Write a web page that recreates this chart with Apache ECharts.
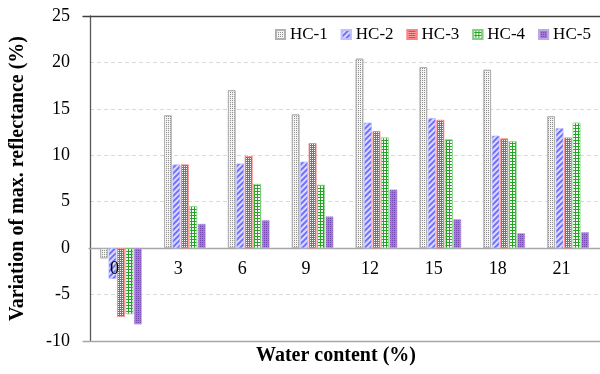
<!DOCTYPE html>
<html><head><meta charset="utf-8">
<script src="https://cdn.jsdelivr.net/npm/echarts@6/dist/echarts.min.js"></script>
<style>html,body{margin:0;padding:0;background:#fff}#c{width:600px;height:374px}</style>
</head><body><div id="c"></div>
<script>
// ---- data ----
const categories = ['0', '3', '6', '9', '12', '15', '18', '21'];
const seriesNames = ['HC-1', 'HC-2', 'HC-3', 'HC-4', 'HC-5'];
const hc1 = [-1.1, 14.3, 17.0, 14.4, 20.4, 19.5, 19.2, 14.2];
const hc2 = [-3.3, 9.0, 9.1, 9.3, 13.5, 14.0, 12.1, 12.9];
const hc3 = [-7.4, 9.0, 9.9, 11.3, 12.6, 13.8, 11.8, 11.9];
const hc4 = [-7.1, 4.5, 6.9, 6.8, 11.9, 11.7, 11.5, 13.5];
const hc5 = [-8.2, 2.6, 3.0, 3.4, 6.3, 3.1, 1.6, 1.7];
const yMin = -10, yMax = 25, yInterval = 5;
const xTitle = 'Water content (%)';
const yTitle = 'Variation of max. reflectance (%)';

// ---- layout & styles ----
const FONT = '"Liberation Serif", "Times New Roman", serif';
const PLOT_TOP = 16, PLOT_H = 325;
const zeroH = PLOT_H * (yMax - 0) / (yMax - yMin); // height from top to the zero line
const styles = [
  { color: '#f4f4f4', borderColor: '#b0b0b0', borderWidth: 0.8,
    decal: { symbol: 'rect', symbolSize: 1, dashArrayX: [1, 1], dashArrayY: [1, 1], color: '#8c8c8c' } },
  { color: '#dcdcff', borderColor: '#c0c0ff', borderWidth: 0.5,
    decal: { symbol: 'rect', symbolSize: 1, dashArrayX: [1, 0], dashArrayY: [1.1, 1.8], rotation: -Math.PI / 4, color: '#7070ff' } },
  { color: '#ff3b3b', borderColor: '#ff8080', borderWidth: 0.5,
    decal: { symbol: 'rect', symbolSize: 1, dashArrayX: [1, 1], dashArrayY: [1, 1], color: '#ffffff' } },
  { color: '#22a522', borderColor: '#80d080', borderWidth: 0.5,
    decal: { symbol: 'rect', symbolSize: 1, dashArrayX: [2, 1], dashArrayY: [2, 1], color: '#ffffff' } },
  { color: '#a07ad4', borderColor: '#c0a8e4', borderWidth: 0.5,
    decal: { symbol: 'rect', symbolSize: 1, dashArrayX: [1, 1], dashArrayY: [1, 1], color: '#7448b0' } }
];
const values = [hc1, hc2, hc3, hc4, hc5];

const chart = echarts.init(document.getElementById('c'), null, { renderer: 'canvas' });
chart.setOption({
  animation: false,
  backgroundColor: '#ffffff',
  textStyle: { fontFamily: FONT },
  legend: {
    data: seriesNames, icon: 'rect', left: 275, top: 26, width: 330, padding: 0,
    itemWidth: 9, itemHeight: 9, itemGap: 13,
    textStyle: { fontFamily: FONT, fontSize: 17, color: '#000' }
  },
  grid: [
    { left: 83, top: PLOT_TOP, width: 515, height: PLOT_H },
    { left: 89, top: PLOT_TOP, width: 515, height: PLOT_H },
    { left: 83, top: PLOT_TOP, width: 540, height: PLOT_H },
    { left: 89, top: PLOT_TOP, width: 515, height: zeroH }
  ],
  xAxis: [
    { gridIndex: 0, type: 'category', data: categories, show: false },
    { gridIndex: 1, type: 'category', data: categories,
      axisLine: { show: true, onZero: true, lineStyle: { color: '#a6a6a6', width: 1.3 } },
      axisTick: { show: false }, axisLabel: { show: false }, splitLine: { show: false } },
    { gridIndex: 2, type: 'category', data: [''], position: 'top',
      axisLine: { show: true, onZero: false, lineStyle: { color: '#404040', width: 1.3 } },
      axisTick: { show: false }, axisLabel: { show: false }, splitLine: { show: false } },
    { gridIndex: 2, type: 'category', data: [''], position: 'bottom',
      axisLine: { show: true, onZero: false, lineStyle: { color: '#a6a6a6', width: 1.3 } },
      axisTick: { show: false }, axisLabel: { show: false }, splitLine: { show: false } },
    { gridIndex: 3, type: 'category', data: categories, position: 'bottom', z: 10,
      axisLine: { show: false, onZero: false }, axisTick: { show: false },
      axisLabel: { fontFamily: FONT, fontSize: 18, color: '#000', margin: 12, padding: [0, 13, 0, 0],
        showMinLabel: true, showMaxLabel: true, interval: 0, hideOverlap: false },
      splitLine: { show: false } }
  ],
  yAxis: [
    { gridIndex: 0, type: 'value', min: yMin, max: yMax, interval: yInterval,
      axisLine: { show: true, lineStyle: { color: '#595959', width: 1.3 } },
      axisTick: { show: false },
      axisLabel: { fontFamily: FONT, fontSize: 18, color: '#000', margin: 20 },
      splitLine: { show: true, lineStyle: { type: [4, 3], color: '#d9d9d9', width: 1 } },
      name: yTitle, nameLocation: 'middle', nameGap: 62, nameRotate: 90,
      nameTextStyle: { fontFamily: FONT, fontSize: 20, fontWeight: 'bold', color: '#000' } },
    { gridIndex: 1, type: 'value', min: yMin, max: yMax, interval: yInterval, show: false,
      splitLine: { show: false } },
    { gridIndex: 2, type: 'value', min: 0, max: 1, show: false, splitLine: { show: false } },
    { gridIndex: 3, type: 'value', min: 0, max: yMax, show: false, splitLine: { show: false } }
  ],
  graphic: [
    { type: 'text', x: 336, y: 356,
      style: { text: xTitle, textAlign: 'center', textVerticalAlign: 'middle',
        font: 'bold 20px ' + FONT, fill: '#000' } }
  ],
  series: seriesNames.map((name, i) => ({
    name, type: 'bar', xAxisIndex: 1, yAxisIndex: 1, z: 2,
    data: values[i], barWidth: 7.5, barGap: '13%',
    itemStyle: styles[i], emphasis: { disabled: true }
  }))
});
</script></body></html>
